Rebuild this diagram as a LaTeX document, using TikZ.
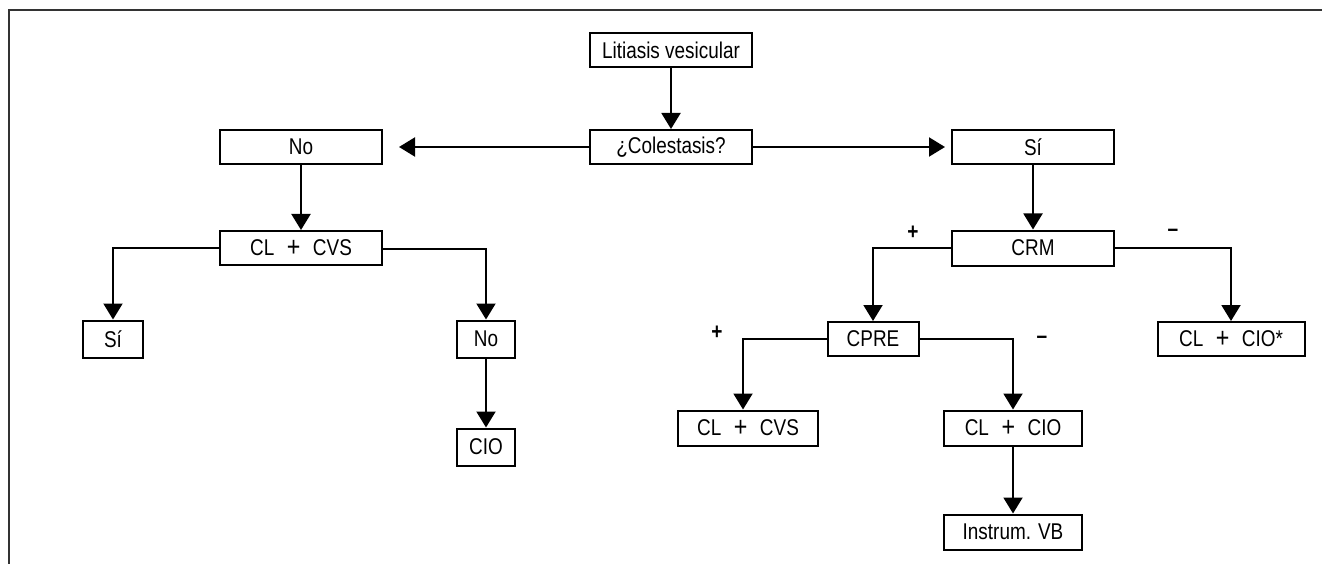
\documentclass[tikz,border=0pt]{standalone}
\usepackage{fontspec}
\setmainfont{Liberation Sans}[FakeStretch=0.83]
\usetikzlibrary{arrows.meta}
\newcommand\plusgap{\hspace{0.55em}\raisebox{-1.8pt}{\fontsize{28}{24}\selectfont+}\hspace{0.55em}}
\begin{document}
\begin{tikzpicture}[x=1pt,y=-1pt,
  box/.style={draw,line width=2pt,minimum height=34pt,inner sep=0pt,font=\fontsize{22.8}{24}\selectfont,anchor=center},
  conn/.style={line width=2pt},
  arr/.style={conn,-{Triangle[length=16pt,width=19pt]}},
  sign/.style={font=\fontsize{23}{24}\selectfont\bfseries,inner sep=0pt}]
\useasboundingbox (0,0) rectangle (1322,564);
\draw[line width=2pt,black!80] (1322,10) -- (9,10) -- (9,564);
% nodes
\node[box,minimum width=162pt] (lit) at (671,50) {Litiasis vesicular};
\node[box,minimum width=162pt] (col) at (671,147) {¿Colestasis?};
\node[box,minimum width=162pt] (no1) at (301,147) {No};
\node[box,minimum width=162pt] (si1) at (1033,147) {Sí};
\node[box,minimum width=162pt] (clcvsA) at (301,248) {CL\plusgap CVS};
\node[box,minimum width=60pt,minimum height=37pt] (si2) at (113,339) {Sí};
\node[box,minimum width=58pt,minimum height=37pt] (no2) at (486,339) {No};
\node[box,minimum width=58pt,minimum height=37pt] (cio) at (486,447) {CIO};
\node[box,minimum width=162pt,minimum height=35pt] (crm) at (1033,248) {CRM};
\node[box,minimum width=91pt] (cpre) at (873,339) {CPRE};
\node[box,minimum width=147pt] (clcioS) at (1231,339) {CL\plusgap CIO*};
\node[box,minimum width=140pt,minimum height=35pt] (clcvsB) at (748,428) {CL\plusgap CVS};
\node[box,minimum width=138pt,minimum height=35pt] (clcio) at (1013,428) {CL\plusgap CIO};
\node[box,minimum width=138pt,minimum height=35pt] (instr) at (1013,532) {Instrum. VB};
% sign labels
\node[sign] (p1) at (913,233) {+};
\node[sign] (m1) at (1173,233) {–};
\node[sign] (p2) at (717,333) {+};
\node[sign] (m2) at (1042,340) {–};
% connectors
\draw[arr] (lit.south) -- (col.north);
\draw[arr,shorten >=16pt] (col.west) -- (no1.east);
\draw[arr,shorten >=6pt] (col.east) -- (si1.west);
\draw[arr] (no1.south) -- (clcvsA.north);
\draw[arr] (clcvsA.west) -| (si2.north);
\draw[arr] ([yshift=-1pt]clcvsA.east) -| (no2.north);
\draw[arr] (no2.south) -- (cio.north);
\draw[arr] (si1.south) -- (crm.north);
\draw[arr] (crm.west) -| (cpre.north);
\draw[arr] (crm.east) -| (clcioS.north);
\draw[arr] (cpre.west) -| ([xshift=-5pt]clcvsB.north);
\draw[arr] (cpre.east) -| (clcio.north);
\draw[arr] (clcio.south) -- (instr.north);
\end{tikzpicture}
\end{document}
